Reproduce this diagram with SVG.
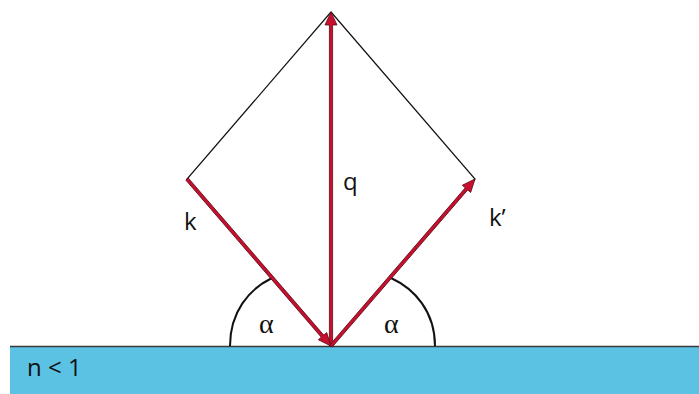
<svg xmlns="http://www.w3.org/2000/svg" width="699" height="394" viewBox="0 0 699 394">
<style>
  .lbl { font-family: "Open Sans", "Liberation Sans", sans-serif; font-size: 24px; fill: #111; }
  .greek { font-family: "Liberation Serif", "DejaVu Serif", serif; font-size: 28px; fill: #111; }
  .edge { fill: none; stroke: #111; stroke-width: 1.2; }
  .arc { fill: none; stroke: #111; stroke-width: 2; }
  .arrow { fill: #c8102e; stroke: #5a0c16; stroke-width: 0.8; stroke-linejoin: miter; }
</style>
<rect width="699" height="394" fill="#ffffff"/>
<g id="medium">
  <rect x="10" y="347" width="689" height="47" fill="#5bc2e4"/>
  <line x1="10" y1="346.5" x2="699" y2="346.5" stroke="#3a3a3a" stroke-width="1.5"/>
  <text class="lbl" x="27" y="376">n &lt; 1</text>
</g>
<g id="rhombus">
  <polygon class="edge" points="331,12 475,179 331,346 187,179"/>
</g>
<g id="angles">
  <path class="arc" d="M230,346 C230,312 249,289 272,278"/>
  <path class="arc" d="M435,346 C435,312 415,289 391,278"/>
  <text class="greek" x="259" y="333">α</text>
  <text class="greek" x="384" y="333">α</text>
</g>
<g id="connectors">
  <g id="arrow-q" transform="translate(331,346) rotate(-90)">
    <polygon class="arrow" points="0,-1.6 321,-1.6 321,-6 334,0 321,6 321,1.6 0,1.6"/>
  </g>
  <g id="arrow-k" transform="translate(187,179) rotate(49.23)">
    <polygon class="arrow" points="0,-1.6 207.5,-1.6 207.5,-5.5 220.5,0 207.5,5.5 207.5,1.6 0,1.6"/>
  </g>
  <g id="arrow-k2" transform="translate(331,346) rotate(-49.23)">
    <polygon class="arrow" points="0,-1.6 207.5,-1.6 207.5,-5.5 220.5,0 207.5,5.5 207.5,1.6 0,1.6"/>
  </g>
</g>
<g id="labels">
  <text class="lbl" x="184" y="230">k</text>
  <text class="lbl" x="343" y="190">q</text>
  <text class="lbl" x="489" y="226">k’</text>
</g>
</svg>
